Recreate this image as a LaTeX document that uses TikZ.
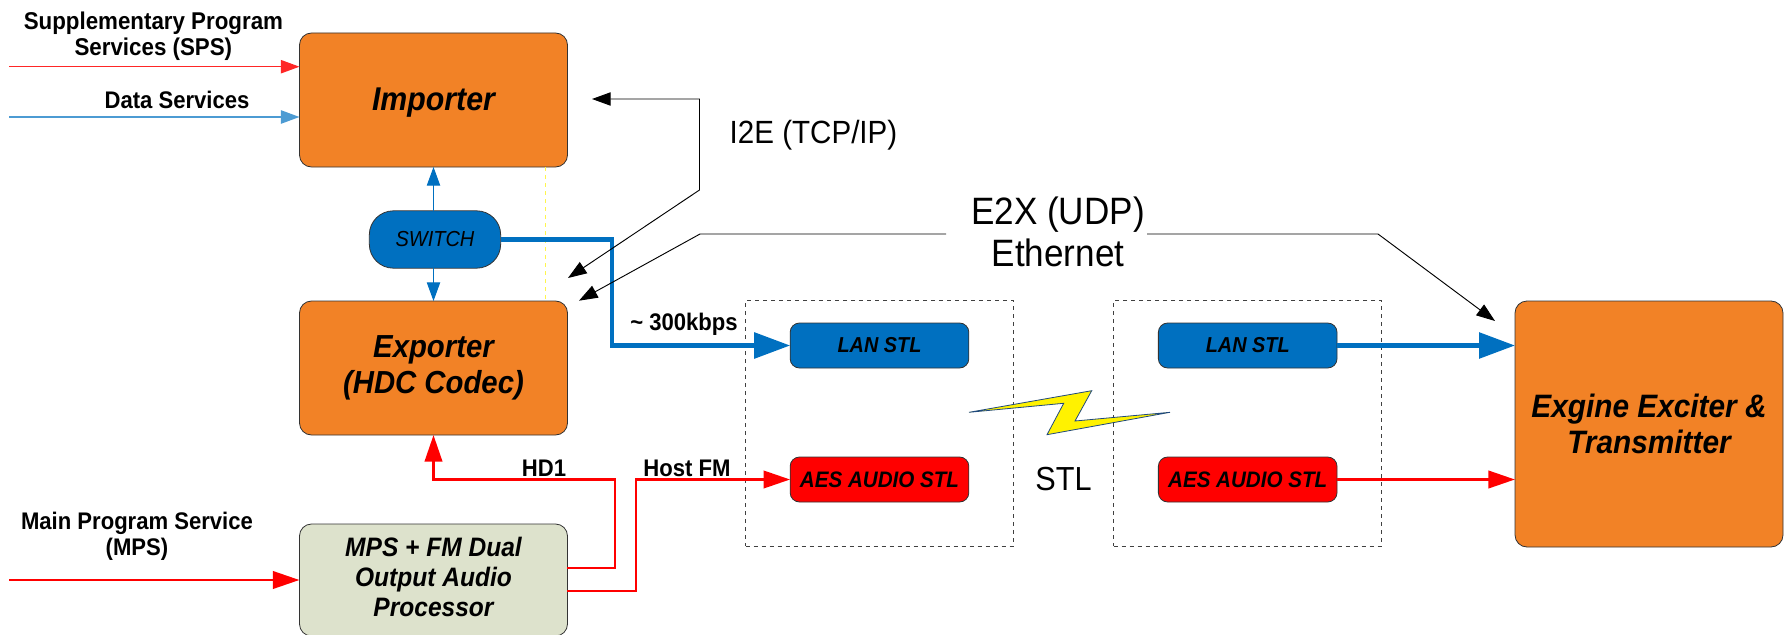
\documentclass[tikz,border=0pt]{standalone}
\usepackage{fontspec}
\setmainfont[FakeStretch=0.92]{Liberation Sans}
\usetikzlibrary{positioning,arrows.meta}

\definecolor{hdorange}{HTML}{F28226}
\definecolor{hdblue}{HTML}{0070C0}
\definecolor{hdgreen}{HTML}{DDE2CC}
\definecolor{boltedge}{HTML}{1F497D}

\begin{document}
\begin{tikzpicture}[
    x=.75pt, y=-.75pt,
    block/.style={draw=black!80, line width=.6pt, outer sep=0pt, inner sep=0pt, align=center,
                  rounded corners=9pt, minimum width=201pt, font=\fontsize{23.9}{26.5}\bfseries\itshape},
    stl/.style={draw=black!80, line width=.6pt, outer sep=0pt, inner sep=0pt, rounded corners=7pt,
                minimum width=134pt, minimum height=33.75pt, font=\fontsize{16.8}{18}\bfseries\itshape},
    frame/.style={draw=black!75, dashed, line width=.6pt, outer sep=0pt,
                  minimum width=201pt, minimum height=184pt},
    lbl/.style={align=center, inner sep=0pt, font=\fontsize{18}{19.5}\bfseries},
    big/.style={align=center, inner sep=0pt, font=\fontsize{28.6}{31.5}\selectfont},
    thinred/.style={-{Triangle[length=14pt,width=10pt]}, red!85, line width=1pt},
    thinblue/.style={-{Triangle[length=14pt,width=10pt]}, hdblue!70, line width=1.2pt},
    swarrow/.style={-{Triangle[length=14pt,width=10pt]}, hdblue, line width=.8pt},
    redline/.style={-{Triangle[length=20pt,width=13pt]}, red, line width=2.2pt},
    blueline/.style={-{Triangle[length=27pt,width=19pt]}, hdblue, line width=3.6pt},
    pointer/.style={->, >={Triangle[length=14pt,width=10pt]}, black, line width=.7pt},
  ]
  \useasboundingbox (0,0) rectangle (1789,635);

  % STL enclosures go under everything else
  \node[frame] (framel) at (879.6,423.3) {};
  \node[frame] (framer) at (1247.7,423.3) {};

  \node[block, fill=hdorange, minimum height=100.5pt, text height=21.5pt, text depth=5pt, font=\fontsize{24.7}{30}\bfseries\itshape] (importer) at (433.5,100) {Importer};
  \node[block, fill=hdorange, minimum height=100.5pt, below=100.5pt of importer] (exporter) {Exporter\\(HDC Codec)};
  \node[block, fill=hdgreen, minimum height=84pt, below=66.75pt of exporter, text depth=5pt, font=\fontsize{20}{22.3}\bfseries\itshape] (audio) {MPS + FM Dual\\Output Audio\\Processor};
  \node[draw=black!80, line width=.6pt, fill=hdblue, outer sep=0pt, inner sep=0pt, rounded corners=18pt,
        minimum width=98.5pt, minimum height=43pt, font=\fontsize{16.3}{18}\itshape] (switch) at (435,239.5) {SWITCH};

  \node[stl, fill=hdblue, font=\fontsize{16.2}{18}\bfseries\itshape] (lanl) at (879.5,345.5) {LAN STL};
  \node[stl, fill=red, below=66.75pt of lanl] (aesl) {AES AUDIO STL};
  \node[stl, fill=hdblue, font=\fontsize{16.2}{18}\bfseries\itshape] (lanr) at (1247.7,345.5) {LAN STL};
  \node[stl, fill=red, below=66.75pt of lanr] (aesr) {AES AUDIO STL};
  \node[block, fill=hdorange, minimum height=184.5pt, font=\fontsize{24.3}{26.7}\bfseries\itshape] (engine) at (1649,424) {Exgine Exciter \&\\Transmitter};

  % labels
  \node[lbl, font=\fontsize{18.2}{19.5}\bfseries] (spslbl) at (153.4,36) {Supplementary Program\\Services (SPS)};
  \node[lbl] (datalbl) at (177,100) {Data Services};
  \node[lbl] (mpslbl) at (137,536.5) {Main Program Service\\(MPS)};
  \node[lbl] (hdlbl) at (544,468) {HD1};
  \node[lbl] (fmlbl) at (687,468) {Host FM};
  \node[lbl] (ratelbl) at (684,324) {\textasciitilde{} 300kbps};
  \node[big, font=\fontsize{24.1}{29}\selectfont] (i2elbl) at (813.5,135) {I2E (TCP/IP)};
  \node[big] (e2xlbl) at (1058,232) {E2X (UDP)\\Ethernet};
  \node[big, font=\fontsize{25}{29}\selectfont] (stllbl) at (1063.5,479) {STL};

  \coordinate (spsin) at (9,66.7);
  \coordinate (datain) at (9,117);
  \coordinate (mpsin) at (9,580);
  \coordinate (hdout) at (567,568);
  \coordinate (fmout) at (567,591);
  \coordinate (hdbend) at (615,479.5);
  \coordinate (fmbend) at (636,479.5);
  \coordinate (lanbend) at (612,345.5);
  \coordinate (gapline) at (545,167);
  \coordinate (i2etop) at (592,99);
  \coordinate (i2eknee) at (699.5,99);
  \coordinate (i2ebend) at (699.5,190);
  \coordinate (i2eend) at (568,278);
  \coordinate (e2xleft) at (946,234);
  \coordinate (e2xbendl) at (700,234);
  \coordinate (e2xendl) at (579,300.7);
  \coordinate (e2xright) at (1147,234);
  \coordinate (e2xbendr) at (1378,234);
  \coordinate (e2xendr) at (1495,321);

  \draw[yellow!70, dashed, line width=.7pt] (gapline) -- (gapline |- exporter.north);

  \draw[thinred] (spsin) -- (spsin -| importer.west);
  \draw[thinblue] (datain) -- (datain -| importer.west);
  \draw[redline] (mpsin) -- (mpsin -| audio.west);
  \draw[swarrow] (switch.north -| importer.south) -- (importer.south);
  \draw[swarrow] (switch.south -| exporter.north) -- (exporter.north);

  \draw[redline] (hdout) -| (hdbend) -| (exporter.south);
  \draw[redline] (fmout) -| (fmbend) -- (aesl.west);
  \draw[redline] (aesr.east) -- (aesr.east -| engine.west);
  \draw[blueline] (switch.east) -| (lanbend) -- (lanl.west);
  \draw[blueline] (lanr.east) -- (lanr.east -| engine.west);

  % black pointers of the two links
  \draw[pointer, <->] (i2etop) -- (i2eknee) -- (i2ebend) -- (i2eend);
  \draw[pointer] (e2xleft) -- (e2xbendl) -- (e2xendl);
  \draw[pointer] (e2xright) -- (e2xbendr) -- (e2xendr);

  % radio link bolt
  \draw[boltedge, fill=yellow, line width=.6pt] (969,412.3) -- (1091.7,390.7) -- (1075,421)
    -- (1170,412.3) -- (1047,434.7) -- (1063.7,403.3) -- cycle;
\end{tikzpicture}
\end{document}
